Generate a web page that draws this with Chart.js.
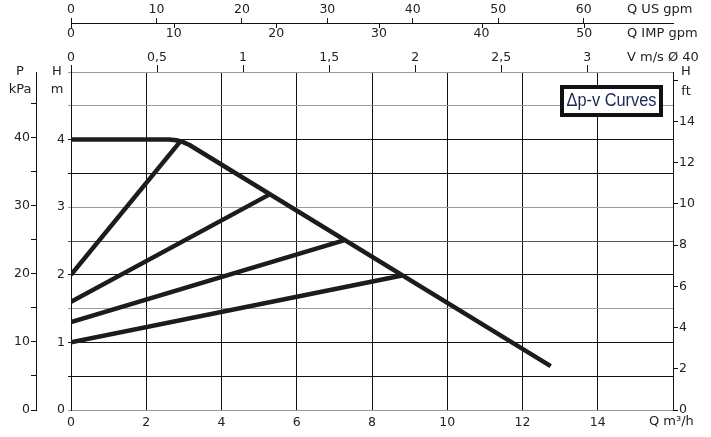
<!DOCTYPE html>
<html>
<head>
<meta charset="utf-8">
<script src="https://cdn.jsdelivr.net/npm/chart.js@4.4.0/dist/chart.umd.min.js"></script>
<style>
  html, body { margin: 0; padding: 0; background: #fff; }
  canvas { display: block; }
</style>
</head>
<body>
<canvas id="curvas" width="711" height="437"></canvas>
<script>
// Curva máxima (Q en m3/h, H en m)
const maxCurveQ = [0, 2.6, 2.8, 2.95, 3.15, 12.75];
const maxCurveH = [4.0, 4.0, 3.99, 3.97, 3.92, 0.65];

// Rectas Δp-v: inicio en Q=0 y final sobre la curva máxima
const dpvStartQ = [0, 0, 0, 0];
const dpvStartH = [2.0, 1.6, 1.3, 1.0];
const dpvEndQ = [2.9, 5.28, 7.25, 8.8];
const dpvEndH = [3.97, 3.19, 2.51, 1.99];

// Marcas de los ejes
const qTicks = [0, 2, 4, 6, 8, 10, 12, 14, 16];
const usTicks = [0, 10, 20, 30, 40, 50, 60];
const impTicks = [0, 10, 20, 30, 40, 50];
const vTicks = [0, 0.5, 1, 1.5, 2, 2.5, 3];
const hTicks = [0, 0.5, 1, 1.5, 2, 2.5, 3, 3.5, 4, 4.5, 5];
const pTicks = [0, 5, 10, 15, 20, 25, 30, 35, 40, 45];
const ftTicks = [0, 2, 4, 6, 8, 10, 12, 14, 16];

// Conversiones entre unidades
const Q_MAX = 16;
const H_MAX = 5;
const US_PER_M3H = 4.403;
const IMP_PER_M3H = 3.666;
const M3H_PER_MS = 4.574;   // tubería Ø 40
const KPA_PER_M = 9.94;
const FT_PER_M = 1 / 0.3048;

const FONT = { family: '"DejaVu Sans", sans-serif', size: 12.5, lineHeight: 1 };
const INK = '#222';

const setTicks = (arr) => (scale) => { scale.ticks = arr.map(v => ({ value: v })); };

// Colores de las líneas horizontales (unas negras, otras grises)
const hGridColor = (v) => {
    if ([0, 1.5, 3, 4.5, 5].includes(v)) return '#9a9a9a';
    if (v === 2.5) return '#555';
    return '#111';
};

const datasets = [];
datasets.push({
    data: maxCurveQ.map((q, i) => ({ x: q, y: maxCurveH[i] })),
    borderColor: '#1c1c1c', borderWidth: 4.5, pointRadius: 0, showLine: true, tension: 0,
    borderJoinStyle: 'round'
});
dpvStartQ.forEach((q, i) => {
    datasets.push({
        data: [{ x: q, y: dpvStartH[i] }, { x: dpvEndQ[i], y: dpvEndH[i] }],
        borderColor: '#1c1c1c', borderWidth: 4.5, pointRadius: 0, showLine: true
    });
});

// Textos de unidades, marcas del eje IMP y cuadro de leyenda
const textosPlugin = {
    id: 'textos',
    afterDraw(chart) {
        const ctx = chart.ctx;
        const us = chart.scales.us;
        const imp = chart.scales.imp;
        ctx.save();
        // marcas hacia abajo del eje IMP gpm
        ctx.strokeStyle = '#111';
        ctx.lineWidth = 1;
        impTicks.forEach(v => {
            const x = Math.round(imp.getPixelForValue(v)) + 0.5;
            ctx.beginPath();
            ctx.moveTo(x, us.bottom);
            ctx.lineTo(x, us.bottom + 5);
            ctx.stroke();
        });

        ctx.fillStyle = INK;
        ctx.textBaseline = 'middle';
        ctx.font = '13px "DejaVu Sans", sans-serif';
        ctx.textAlign = 'center';
        ctx.fillText('P', 20, 72);
        ctx.fillText('kPa', 20, 90);
        ctx.fillText('H', 57, 72);
        ctx.fillText('m', 57, 90);
        ctx.fillText('H', 686, 72);
        ctx.fillText('ft', 686, 92);

        ctx.textAlign = 'left';
        ctx.fillText('Q US gpm', 627, 9.5);
        ctx.fillText('Q IMP gpm', 627, 34);
        ctx.fillText('V m/s Ø 40', 627, 58);
        ctx.fillText('Q m³/h', 649, 422);

        // cuadro "Δp-v Curves"
        ctx.fillStyle = '#fff';
        ctx.fillRect(560, 85, 103, 32);
        ctx.strokeStyle = '#111';
        ctx.lineWidth = 4;
        ctx.strokeRect(562, 87, 99, 28);
        ctx.fillStyle = '#1d2757';
        ctx.textAlign = 'center';
        ctx.font = '18px "Liberation Sans", sans-serif';
        const label = 'Δp-v Curves';
        const w = ctx.measureText(label).width;
        const k = Math.min(1, 90 / w);   // letra estrecha
        ctx.translate(611.5, 101.5);
        ctx.scale(k, 1);
        ctx.fillText(label, 0, 0);
        ctx.restore();
    }
};

new Chart(document.getElementById('curvas'), {
    type: 'scatter',
    data: { datasets },
    options: {
        responsive: false,
        animation: false,
        devicePixelRatio: 1,
        layout: { padding: 0 },
        plugins: { legend: { display: false }, tooltip: { enabled: false } },
        scales: {
            x: {
                type: 'linear', position: 'bottom', min: 0, max: Q_MAX,
                afterBuildTicks: setTicks(qTicks),
                afterFit: s => { s.height = 27; },
                ticks: { font: FONT, color: INK, padding: 6, maxRotation: 0,
                    callback: v => (v === Q_MAX ? '' : v) },
                grid: { color: '#111', lineWidth: 1, drawTicks: false },
                border: { color: '#999' }
            },
            us: {
                type: 'linear', position: 'top', weight: 3, min: 0, max: Q_MAX * US_PER_M3H,
                afterBuildTicks: setTicks(usTicks),
                afterFit: s => { s.height = 23; },
                ticks: { font: FONT, color: INK, padding: 2, maxRotation: 0 },
                grid: { drawOnChartArea: false, tickLength: 5, color: '#111' },
                border: { color: '#111' }
            },
            imp: {
                type: 'linear', position: 'top', weight: 2, min: 0, max: Q_MAX * IMP_PER_M3H,
                afterBuildTicks: setTicks(impTicks),
                afterFit: s => { s.height = 23; },
                ticks: { font: FONT, color: INK, padding: 6, maxRotation: 0 },
                grid: { display: false, drawTicks: false, drawOnChartArea: false },
                border: { display: false }
            },
            v: {
                type: 'linear', position: 'top', weight: 1, min: 0, max: Q_MAX / M3H_PER_MS,
                afterBuildTicks: setTicks(vTicks),
                afterFit: s => { s.height = 26; },
                ticks: { font: FONT, color: INK, padding: 1, maxRotation: 0,
                    callback: v => String(v).replace('.', ',') },
                grid: { drawOnChartArea: false, tickLength: 7, color: '#111' },
                border: { color: '#9a9a9a' }
            },
            y: {
                type: 'linear', position: 'left', weight: 1, min: 0, max: H_MAX,
                afterBuildTicks: setTicks(hTicks),
                afterFit: s => { s.width = 35; },
                ticks: { font: FONT, color: INK, padding: 3,
                    callback: v => (Number.isInteger(v) && v < H_MAX ? v : '') },
                grid: { tickLength: 3, lineWidth: 1, color: c => hGridColor(c.tick.value) },
                border: { color: '#111' }
            },
            p: {
                type: 'linear', position: 'left', weight: 2, min: 0, max: H_MAX * KPA_PER_M,
                afterBuildTicks: setTicks(pTicks),
                afterFit: s => { s.width = 36; },
                ticks: { font: FONT, color: INK, padding: 1,
                    callback: v => (v % 10 === 0 ? v : '') },
                grid: { drawOnChartArea: false, tickLength: 5, color: '#111' },
                border: { color: '#111' }
            },
            ft: {
                type: 'linear', position: 'right', min: 0, max: H_MAX * FT_PER_M,
                afterBuildTicks: setTicks(ftTicks),
                afterFit: s => { s.width = 38; },
                ticks: { font: FONT, color: INK, padding: 1,
                    callback: v => (v === 16 ? '' : v) },
                grid: { drawOnChartArea: false, tickLength: 5, color: '#111' },
                border: { color: '#111' }
            }
        }
    },
    plugins: [textosPlugin]
});
</script>
</body>
</html>
